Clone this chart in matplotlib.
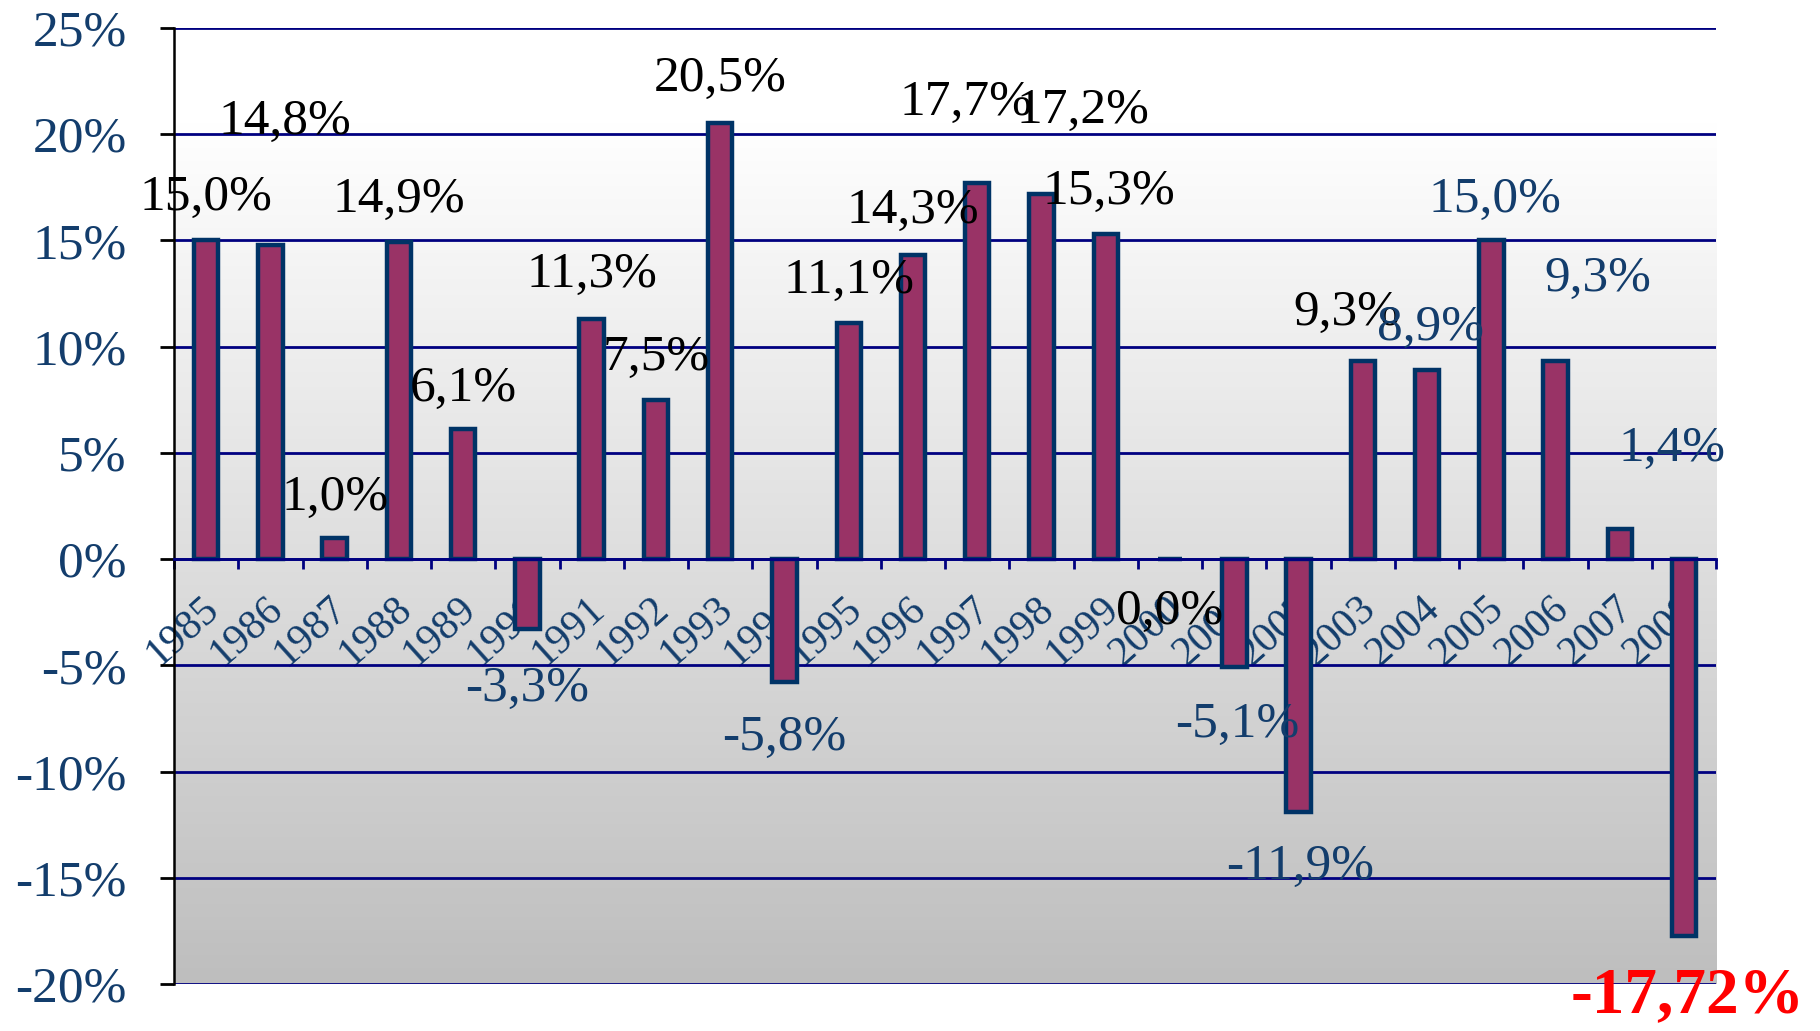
import numpy as np
import matplotlib
matplotlib.use("Agg")
import matplotlib.pyplot as plt
import matplotlib.transforms as mtransforms

# --- data ---
years = [str(y) for y in range(1985, 2009)]
returns = [15.0, 14.8, 1.0, 14.9, 6.1, -3.3, 11.3, 7.5, 20.5, -5.8, 11.1, 14.3,
           17.7, 17.2, 15.3, 0.0, -5.1, -11.9, 9.3, 8.9, 15.0, 9.3, 1.4, -17.72]
label_texts = ["15,0%", "14,8%", "1,0%", "14,9%", "6,1%", "-3,3%", "11,3%", "7,5%",
               "20,5%", "-5,8%", "11,1%", "14,3%", "17,7%", "17,2%", "15,3%", "0,0%",
               "-5,1%", "-11,9%", "9,3%", "8,9%", "15,0%", "9,3%", "1,4%", "-17,72%"]
ytick_vals = [-20, -15, -10, -5, 0, 5, 10, 15, 20, 25]

# label placement (manually dragged labels in the original)
label_dx = [0, 0.22, 0, 0, 0, 0, 0, 0, 0, 0, 0, 0, -0.17, 0.65, 0.05, 0,
            0.04, 0.03, -0.25, 0.05, 0.05, 0.66, 0.81, 0.05]
label_y = [17.0, 20.6, 2.9, 16.9, 8.0, -6.1, 13.4, 9.5, 22.6, -8.4, 13.1, 16.4,
           21.5, 21.1, 17.3, -2.5, -7.8, -14.5, 11.6, 10.9, 16.9, 13.2, 5.2, -20.55]
blue = "#133d6c"
label_colors = ["k", "k", "k", "k", "k", blue, "k", "k", "k", blue, "k", "k",
                "k", "k", "k", "k", blue, blue, "k", blue, blue, blue, blue, "red"]

plt.rcParams['font.family'] = ['Liberation Serif', 'DejaVu Serif']

fig = plt.figure(figsize=(18.2, 10.31), dpi=100)
ax = fig.add_axes([0.0956, 0.0456, 0.943 - 0.0956, 0.973 - 0.0456])

n = len(years)
x = np.arange(n)
ax.set_xlim(-0.5, n - 0.5)
ax.set_ylim(-20, 25)

# gradient background
ys = np.linspace(25, -20, 300)
g = np.clip(222 + 1.6 * ys, 0, 255) / 255.0
grad = np.dstack([g, g, g]).reshape(300, 1, 3)
ax.imshow(grad, extent=[-0.5, n - 0.5, -20, 25], aspect='auto', zorder=-1)

ax.set_axisbelow(True)
ax.yaxis.grid(True, color="#000080", lw=2.0)

ax.bar(x, returns, width=0.38, color="#993366", edgecolor="#003366",
       linewidth=3.2, zorder=2)

for i in range(n):
    if i == n - 1:
        ax.text(x[i] + label_dx[i], label_y[i], label_texts[i], color="red",
                fontsize=47, fontweight='bold', ha='center', va='center',
                clip_on=False, zorder=5)
    else:
        ax.text(x[i] + label_dx[i], label_y[i], label_texts[i], color=label_colors[i],
                fontsize=37, ha='center', va='center', zorder=5)

# axes styling
for s in ['top', 'right']:
    ax.spines[s].set_visible(False)
ax.spines['left'].set_color('black')
ax.spines['left'].set_linewidth(1.8)
ax.spines['bottom'].set_position(('data', 0))
ax.spines['bottom'].set_color('#000080')
ax.spines['bottom'].set_linewidth(2.0)

ax.set_yticks(ytick_vals)
ax.set_yticklabels([f"{v}%" for v in ytick_vals], color=blue, fontsize=37)
ax.tick_params(axis='y', length=10, width=2, color='black', pad=24)

ax.set_xticks(x)
ax.set_xticklabels(years, rotation=42, ha='right', va='top',
                   rotation_mode='anchor', color=blue, fontsize=30)
ax.tick_params(axis='x', which='major', length=0, pad=22)
ax.set_xticks(np.arange(-0.5, n, 1.0), minor=True)
ax.tick_params(axis='x', which='minor', length=7, width=2, color='#000080')

# nudge year labels a bit to the left
shift = mtransforms.ScaledTranslation(-4 / 72, 0, fig.dpi_scale_trans)
for lbl in ax.get_xticklabels():
    lbl.set_transform(lbl.get_transform() + shift)

fig.savefig("out.png", dpi=100)
